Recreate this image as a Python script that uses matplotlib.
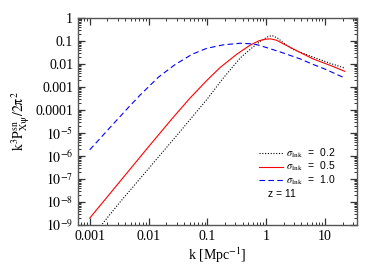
import numpy as np
import matplotlib
matplotlib.use("Agg")
import matplotlib.pyplot as plt
from matplotlib.ticker import LogLocator, FixedLocator, FixedFormatter, NullFormatter

plt.rcParams['font.family'] = ['Liberation Serif', 'DejaVu Serif']
plt.rcParams['mathtext.fontset'] = 'stix'

# data (log10 k, log10 y)
logk_02 = [-3.0, -2.83, -2.5, -2.0, -1.5, -1.0, -0.73, -0.44, -0.25, -0.10, 0.02, 0.10, 0.20, 0.29, 0.46, 0.80, 1.10, 1.34]
logy_02 = [-9.6, -9.09, -8.05, -6.55, -5.05, -3.52, -2.62, -1.74, -1.32, -1.02, -0.83, -0.76, -0.88, -1.07, -1.37, -1.70, -1.98, -2.18]

logk_05 = [-3.0, -2.5, -2.0, -1.59, -1.3, -1.01, -0.78, -0.5, -0.27, -0.12, 0.0, 0.08, 0.18, 0.29, 0.58, 0.80, 1.10, 1.34]
logy_05 = [-8.70, -7.15, -5.60, -4.35, -3.50, -2.72, -2.15, -1.58, -1.18, -0.99, -0.92, -0.91, -0.97, -1.12, -1.50, -1.78, -2.07, -2.32]

logk_10 = [-3.0, -2.64, -2.35, -2.15, -2.01, -1.83, -1.55, -1.26, -1.01, -0.73, -0.44, -0.27, -0.16, 0.0, 0.29, 0.58, 0.80, 1.0, 1.34]
logy_10 = [-5.73, -4.72, -3.91, -3.37, -3.02, -2.57, -2.03, -1.58, -1.32, -1.17, -1.10, -1.12, -1.16, -1.28, -1.52, -1.78, -2.02, -2.22, -2.61]

labels = [r'$\sigma_{\rm ln\,k}$  =  0.2', r'$\sigma_{\rm ln\,k}$  =  0.5', r'$\sigma_{\rm ln\,k}$  =  1.0']

xticks = [0.001, 0.01, 0.1, 1, 10]
xticklabels = ['0.001', '0.01', '0.1', '1', '10']
yticks = [1e-9, 1e-8, 1e-7, 1e-6, 1e-5, 1e-4, 1e-3, 1e-2, 1e-1, 1]
yticklabels = [r'$10^{-9}$', r'$10^{-8}$', r'$10^{-7}$', r'$10^{-6}$', r'$10^{-5}$',
               '0.0001', '0.001', '0.01', '0.1', '1']

fig = plt.figure(figsize=(3.9, 2.68), dpi=100)
ax = fig.add_axes([0.2, 0.1604, 0.715, 0.7726])

ax.plot(10**np.array(logk_02), 10**np.array(logy_02), color='black', ls=(0, (1, 1.5)), lw=0.8, label=labels[0])
ax.plot(10**np.array(logk_05), 10**np.array(logy_05), color='red', ls='-', lw=0.8, label=labels[1])
ax.plot(10**np.array(logk_10), 10**np.array(logy_10), color='blue', ls=(0, (5, 3)), lw=0.8, label=labels[2])

ax.set_xscale('log')
ax.set_yscale('log')
ax.set_xlim(10**-3.2, 10**1.545)
ax.set_ylim(1e-9, 1)

ax.xaxis.set_major_locator(FixedLocator(xticks))
ax.xaxis.set_major_formatter(FixedFormatter(xticklabels))
ax.xaxis.set_minor_locator(LogLocator(base=10, subs=np.arange(2, 10), numticks=20))
ax.xaxis.set_minor_formatter(NullFormatter())
ax.yaxis.set_major_locator(FixedLocator(yticks))
ax.yaxis.set_major_formatter(FixedFormatter(yticklabels))
ax.yaxis.set_minor_locator(LogLocator(base=10, subs=np.arange(2, 10), numticks=20))
ax.yaxis.set_minor_formatter(NullFormatter())

ax.tick_params(which='both', direction='in', top=True, right=True, labelsize=10, colors='#333333', labelcolor='black')
ax.tick_params(which='major', length=5, width=0.9)
ax.tick_params(which='minor', length=2.5, width=0.7)
for s in ax.spines.values():
    s.set_color('#555555')
    s.set_linewidth(1.0)

ax.set_xlabel(r'k [Mpc$^{-1}$]', fontsize=10, labelpad=2)
ax.set_ylabel(r'$\rm k^3P^{sn}_{X\psi}/2\pi^2$', fontsize=10, labelpad=2)

leg = ax.legend(loc='upper left', bbox_to_anchor=(0.63, 0.405), frameon=False,
                prop={'family': ['Liberation Sans', 'DejaVu Sans'], 'size': 7.5},
                handlelength=2.3, handletextpad=0.3, labelspacing=0.0, borderpad=0,
                handleheight=0.5)
ax.text(0.68, 0.15, 'z = 11', transform=ax.transAxes, fontsize=7.5, ha='left', va='center',
        family=['Liberation Sans', 'DejaVu Sans'])

fig.savefig('out.png', dpi=100)
